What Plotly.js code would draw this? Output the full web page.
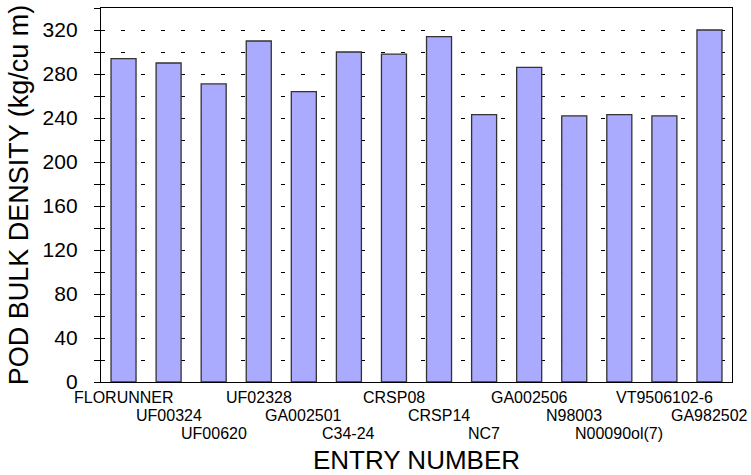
<!DOCTYPE html>
<html>
<head>
<meta charset="utf-8">
<script src="https://cdn.plot.ly/plotly-3.0.1.min.js"></script>
<style>html,body{margin:0;padding:0;background:#fff;}#chart{width:751px;height:475px;}</style>
</head>
<body>
<div id="chart"></div>
<script>
var entries = ["FLORUNNER","UF00324","UF00620","UF02328","GA002501","C34-24","CRSP08","CRSP14","NC7","GA002506","N98003","N00090ol(7)","VT9506102-6","GA982502"];
var density = [294, 290, 271, 310, 264, 300, 298, 314, 243, 286, 242, 243, 242, 320];
var yTicks = [0, 40, 80, 120, 160, 200, 240, 280, 320];
var labelRowShift = [-5, -23, -41];

var FONT = "Liberation Sans, Arial, sans-serif";

var annotations = entries.map(function (name, i) {
  return {
    x: name, xref: "x", y: 0, yref: "paper",
    yanchor: "top", xanchor: "center",
    yshift: labelRowShift[i % 3],
    text: name, showarrow: false,
    font: {family: FONT, size: 16, color: "#000"}
  };
});

var trace = {
  type: "bar",
  x: entries,
  y: density,
  marker: {color: "#aaaaff", line: {color: "#333333", width: 1.3}},
  hoverinfo: "x+y"
};

var layout = {
  width: 751, height: 475,
  margin: {l: 101, r: 19, t: 8, b: 93},
  paper_bgcolor: "#fff", plot_bgcolor: "#fff",
  showlegend: false,
  bargap: 0.445,
  font: {family: FONT, color: "#000"},
  xaxis: {
    type: "category",
    range: [-0.5, entries.length - 0.5],
    showticklabels: false,
    ticks: "",
    showgrid: false,
    showline: true, linecolor: "#000", linewidth: 1.3,
    mirror: true,
    zeroline: false,
    automargin: false,
    title: {text: "ENTRY NUMBER", font: {family: FONT, size: 26, color: "#000"}, standoff: 68}
  },
  yaxis: {
    range: [0, 340],
    tickvals: yTicks,
    ticktext: yTicks.map(String),
    ticks: "outside", ticklen: 6, tickcolor: "#000", tickwidth: 1,
    tickfont: {family: FONT, size: 21, color: "#000"},
    ticklabelstandoff: 12,
    showgrid: true, gridcolor: "#000", gridwidth: 1, griddash: "4px,16px",
    minor: {dtick: 20, tick0: 0, ticks: "outside", ticklen: 6, tickcolor: "#000",
            showgrid: true, gridcolor: "#000", gridwidth: 1, griddash: "4px,16px"},
    showline: true, linecolor: "#000", linewidth: 1.3,
    mirror: true,
    zeroline: false,
    automargin: false,
    title: {text: "POD BULK DENSITY (kg/cu m)", font: {family: FONT, size: 27, color: "#000"}, standoff: 6}
  },
  annotations: annotations
};

Plotly.newPlot("chart", [trace], layout, {displayModeBar: false, responsive: false});
</script>
</body>
</html>
